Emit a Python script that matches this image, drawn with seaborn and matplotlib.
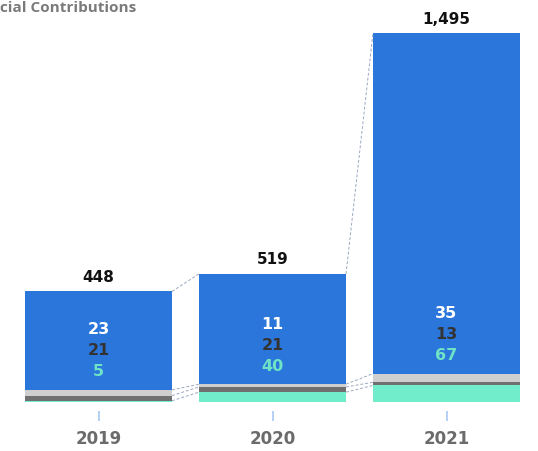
import matplotlib
matplotlib.use("Agg")
import matplotlib.pyplot as plt
import seaborn as sns
import numpy as np

sns.set_style("white")
plt.rcParams['font.family'] = ['DejaVu Sans']

# data
years = ["2019", "2020", "2021"]
totals = [448, 519, 1495]
light_gray = [23, 11, 35]
dark_gray = [21, 21, 13]
green = [5, 40, 67]

blue_c = "#2b76db"
light_c = "#cfcfcf"
dark_c = "#707070"
green_c = "#72edcc"

# cumulative levels (bottom up: green, dark gray, light gray, blue)
cum1 = np.array(green)
cum2 = cum1 + np.array(dark_gray)
cum3 = cum2 + np.array(light_gray)
cum4 = np.array(totals)

fig = plt.figure(figsize=(5.38, 4.51), dpi=100)
ax = fig.add_axes([0, 49 / 451, 1, 369 / 451])

w = 0.845
x = np.arange(len(years))
for level, col in [(cum4, blue_c), (cum3, light_c), (cum2, dark_c), (cum1, green_c)]:
    sns.barplot(x=years, y=level, color=col, width=w, saturation=1, ax=ax, linewidth=0)

# dashed connectors between segment tops
for i in range(len(years) - 1):
    for level in [cum4, cum3, cum2, cum1]:
        ax.plot([x[i] + w / 2, x[i + 1] - w / 2], [level[i], level[i + 1]],
                ls=(0, (3, 2)), color="#9aa8c0", lw=0.7, zorder=1)

px = 0.72  # points per pixel
for i in range(len(years)):
    ax.annotate(f"{totals[i]:,}", (x[i], totals[i]), xytext=(0, 14 * px),
                textcoords="offset points", ha="center", va="center",
                fontsize=11, fontweight="bold", color="#111111", annotation_clip=False)
    for val, off, col in [(green[i], 18, "#6fe3c6"), (dark_gray[i], 39, "#333333"),
                          (light_gray[i], 60, "white")]:
        ax.annotate(str(val), (x[i], cum3[i]), xytext=(0, off * px),
                    textcoords="offset points", ha="center", va="center",
                    fontsize=11.5, fontweight="bold", color=col)

ax.set_xlim(-98.5 / 174, (538 - 98.5) / 174)
ax.set_ylim(0, 1495)
ax.set_yticks([])
ax.set_xlabel("")
ax.set_ylabel("")
for s in ["top", "right", "left"]:
    ax.spines[s].set_visible(False)
ax.spines["bottom"].set_position(("outward", 9 * px))
ax.spines["bottom"].set_visible(False)
ax.tick_params(axis="x", bottom=True, length=10 * px, width=1.2, color="#a9c9f2",
               pad=9 * px, labelsize=12, labelcolor="#6b6b6b")
for t in ax.get_xticklabels():
    t.set_fontweight("bold")

# title is cropped in the source picture, only this part is visible
fig.text(0, 1 - 1 / 451, "cial Contributions", ha="left", va="top",
         fontsize=11, fontweight="bold", color="#7a7a7a", family="Open Sans")

fig.savefig("out.png", dpi=100)
